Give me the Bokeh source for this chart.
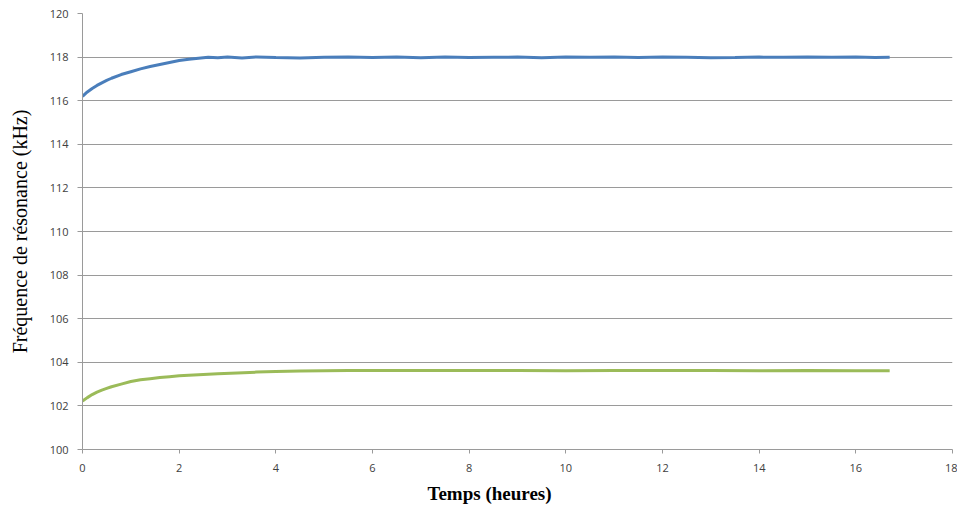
from bokeh.plotting import figure
from bokeh.models import FixedTicker, Range1d, Title
from bokeh.embed import file_html
from bokeh.resources import INLINE

# --- data ---
t_blue = [0.0, 0.1, 0.2, 0.3, 0.4, 0.5, 0.6, 0.8, 1.0, 1.2, 1.4, 1.6, 1.8, 2.0,
          2.2, 2.4, 2.6, 2.8, 3.0, 3.3, 3.6, 4.0, 4.5, 5.0, 5.5, 6.0, 6.5, 7.0,
          7.5, 8.0, 8.5, 9.0, 9.5, 10.0, 10.5, 11.0, 11.5, 12.0, 12.5, 13.0,
          13.5, 14.0, 14.5, 15.0, 15.5, 16.0, 16.4, 16.7]
freq_blue = [116.20, 116.40, 116.56, 116.70, 116.82, 116.93, 117.03, 117.20,
             117.33, 117.46, 117.57, 117.66, 117.75, 117.84, 117.90, 117.95,
             117.99, 117.97, 118.00, 117.96, 118.01, 117.98, 117.96, 117.99,
             118.00, 117.98, 118.01, 117.97, 118.00, 117.98, 117.99, 118.00,
             117.97, 118.00, 117.99, 118.01, 117.98, 118.00, 117.99, 117.97,
             117.98, 118.00, 117.99, 118.01, 117.99, 118.00, 117.98, 117.99]

t_green = [0.0, 0.1, 0.2, 0.3, 0.4, 0.5, 0.6, 0.8, 1.0, 1.2, 1.4, 1.6, 1.8,
           2.0, 2.4, 2.8, 3.2, 3.6, 4.0, 4.5, 5.0, 5.5, 6.0, 7.0, 8.0, 9.0,
           10.0, 11.0, 12.0, 13.0, 14.0, 15.0, 16.0, 16.7]
freq_green = [102.22, 102.38, 102.52, 102.63, 102.72, 102.80, 102.88, 103.00,
              103.12, 103.20, 103.25, 103.30, 103.34, 103.38, 103.43, 103.47,
              103.51, 103.55, 103.58, 103.60, 103.61, 103.62, 103.62, 103.62,
              103.62, 103.62, 103.61, 103.62, 103.62, 103.62, 103.61, 103.62,
              103.61, 103.61]

x_ticks = [0, 2, 4, 6, 8, 10, 12, 14, 16, 18]
y_ticks = [100, 102, 104, 106, 108, 110, 112, 114, 116, 118, 120]
x_title = "Temps (heures)"
y_title = "Fréquence de résonance (kHz)"

grid_col = "#9a9a9a"
tick_font = "Open Sans"

p = figure(width=957, height=510, output_backend="svg", toolbar_location=None,
           x_range=Range1d(0, 18), y_range=Range1d(100, 120),
           min_border_left=82, min_border_right=5, min_border_top=13,
           min_border_bottom=61)
p.outline_line_color = None
p.background_fill_color = "white"
p.border_fill_color = "white"

p.line(t_blue, freq_blue, line_color="#4a7ebb", line_width=3)
p.line(t_green, freq_green, line_color="#9bbb59", line_width=3)

p.xaxis.ticker = FixedTicker(ticks=x_ticks)
p.yaxis.ticker = FixedTicker(ticks=y_ticks)
p.xgrid.grid_line_color = None
p.ygrid.grid_line_color = grid_col
p.ygrid.grid_line_width = 1

for ax in (p.xaxis[0], p.yaxis[0]):
    ax.axis_line_color = grid_col
    ax.major_tick_line_color = grid_col
    ax.minor_tick_line_color = None
    ax.major_tick_in = 0
    ax.major_tick_out = 5
    ax.major_label_text_font = tick_font
    ax.major_label_text_font_size = "11px"
    ax.major_label_text_color = "#404040"

p.xaxis.major_tick_out = 4
p.xaxis.major_label_standoff = 10
p.yaxis.major_label_standoff = 9

# x-axis title, centred on the whole chart area (left of the frame centre)
p.add_layout(Title(text=x_title, align="left", offset=345,
                   text_font="Liberation Serif", text_font_style="bold",
                   text_font_size="19px", text_color="black",
                   standoff=13), "below")

p.yaxis.axis_label = y_title
p.yaxis.axis_label_text_font = "Liberation Serif"
p.yaxis.axis_label_text_font_style = "normal"
p.yaxis.axis_label_text_font_size = "20px"
p.yaxis.axis_label_text_color = "black"
p.yaxis.axis_label_standoff = 16

open("out.html", "w").write(file_html(p, INLINE))
